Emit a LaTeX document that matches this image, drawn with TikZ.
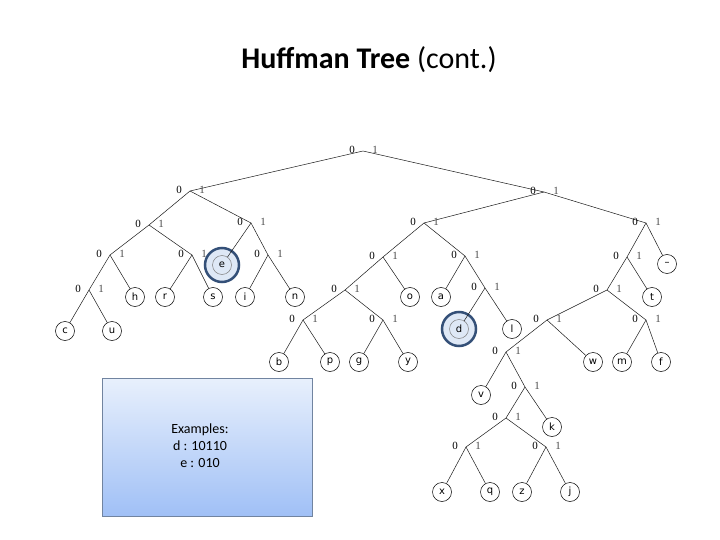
\documentclass[tikz,border=0pt]{standalone}
\usepackage{fontspec}
\setmainfont{Carlito}
\newfontfamily\treefont{Liberation Serif}
\newfontfamily\leaffont{DejaVu Sans}
\usetikzlibrary{positioning}
\definecolor{ringblue}{RGB}{52,80,120}
\definecolor{hilite}{RGB}{222,232,246}
\definecolor{boxtop}{RGB}{232,240,252}
\definecolor{boxbot}{RGB}{160,192,246}
\tikzset{
leaf/.style={draw, circle, minimum size=19pt, inner sep=0pt, line width=0.5pt, font=\leaffont\fontsize{10}{10}\selectfont},
bit/.style={font=\treefont\fontsize{11}{11}\selectfont, inner sep=0pt},
edge/.style={line width=0.5pt, gray!20!black}
}
\begin{document}
\begin{tikzpicture}[x=1pt, y=-1pt]
\useasboundingbox (0,0) rectangle (720,540);
% title
\node[font=\fontsize{30}{30}\selectfont] (title) at (369,60) {\textbf{Huffman Tree} (cont.)};
% example box
\node[draw=ringblue!70, top color=boxtop, bottom color=boxbot, minimum width=210pt, minimum height=138pt, inner sep=0pt] (box) at (207,447) {};
\node[font=\fontsize{14}{17}\selectfont, align=center] (examples) at (200,446) {Examples:\\d : 10110\\e : 010};
% internal nodes
\foreach \n/\x/\y in {r/363/151, a/190/191, b/544/192, aa/149/225, ab/251/223,
  aaa/110/255, aab/192/255, abb/268/255, aaaa/89/290,
  ba/424/223, bb/646/223, baa/383/257, bab/465/256, baaa/345/290, babb/485/288,
  baaaa/303/320, baaab/383/320, bba/627/257, bbaa/607/290, bbaaa/547/320, bbaab/646/320,
  v0/506/352, v1/525/387, v2/506/418, v3/466/447, v4/546/447}
  \coordinate (\n) at (\x,\y);
% highlighted leaves
\foreach \n/\t/\x/\y in {e/e/222/265, d/d/459/329}{
  \node[circle, draw=ringblue, line width=2.5pt, fill=hilite, minimum size=34pt] (\n-ring) at (\x,\y) {};
  \node[leaf, draw=gray] (\n) at (\x,\y) {\t};
}
% leaves
\foreach \n/\x/\y in {h/135/297, r/165/297, s/213/297, i/245/297, n/295/297, c/65/331, u/112/331,
  b/279/362, p/330/362, g/359/362, y/408/362, o/410/297, a/441/297, l/512/329,
  t/652/297, w/593/362, m/622/362, f/661/362, v/481/395, k/552/427,
  x/442/492, q/490/492, z/522/492, j/570/492}
  \node[leaf] (L\n) at (\x,\y) {\n};
\node[leaf] (Lbar) at (667,264) {\textendash};
% edges
\foreach \p/\c in {r/a, r/b, a/aa, a/ab, aa/aaa, aa/aab, aaa/aaaa, aaa/Lh, aaaa/Lc, aaaa/Lu,
  aab/Lr, aab/Ls, ab/e, ab/abb, abb/Li, abb/Ln,
  b/ba, b/bb, ba/baa, ba/bab, baa/baaa, baa/Lo, baaa/baaaa, baaa/baaab,
  baaaa/Lb, baaaa/Lp, baaab/Lg, baaab/Ly, bab/La, bab/babb, babb/d, babb/Ll,
  bb/bba, bb/Lbar, bba/bbaa, bba/Lt, bbaa/bbaaa, bbaa/bbaab, bbaab/Lm, bbaab/Lf,
  bbaaa/v0, bbaaa/Lw, v0/Lv, v0/v1, v1/v2, v1/Lk, v2/v3, v2/v4, v3/Lx, v3/Lq, v4/Lz, v4/Lj}
  \draw[edge] (\p) -- (\c);
% bit labels
\foreach \n in {r, a, b, aa, ab, aaa, aab, abb, aaaa, ba, bb, baa, bab, baaa, babb,
  baaaa, baaab, bba, bbaa, bbaaa, bbaab, v0, v1, v2, v3, v4}{
  \node[bit] (\n-0) at ([xshift=-11pt, yshift=1pt]\n) {0};
  \node[bit, gray!60!black] (\n-1) at ([xshift=12pt, yshift=1pt]\n) {1};
}
\end{tikzpicture}
\end{document}
